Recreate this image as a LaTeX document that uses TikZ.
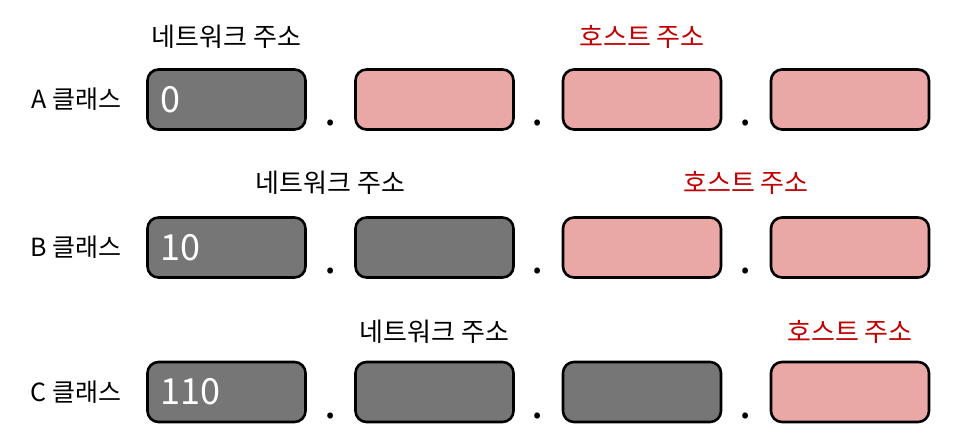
\documentclass[tikz,border=0pt]{standalone}
\usepackage{fontspec}
\setmainfont{Noto Sans CJK KR}
\definecolor{netgray}{RGB}{118,118,118}
\definecolor{hostpink}{RGB}{233,168,166}
\definecolor{hostred}{RGB}{192,0,0}
\tikzset{
  addrbox/.style={draw=black, line width=2.6pt, rounded corners=11pt,
    minimum height=60pt, text width=132pt, inner xsep=13pt, align=left,
    text=white, font=\fontsize{36}{40}\selectfont},
  netbox/.style={addrbox, fill=netgray},
  hostbox/.style={addrbox, fill=hostpink},
  classlabel/.style={anchor=east, font=\fontsize{25}{28}\selectfont},
  netlabel/.style={font=\fontsize{26}{30}\selectfont},
  hostlabel/.style={netlabel, text=hostred},
  dotmark/.style={anchor=base, inner sep=0pt, font=\fontsize{44}{46}\selectfont}
}
\begin{document}
\begin{tikzpicture}[x=1pt, y=-1pt]
  \useasboundingbox (0,0) rectangle (960,446);
  \begin{scope}[yshift=-99.5pt]
    \node[classlabel] (aname) at (125,0) {A 클래스};
    \node[netbox] (a1) at (226.5,0) {0};
    \node[hostbox] (a2) at (434.5,0) {};
    \node[hostbox] (a3) at (642,0) {};
    \node[hostbox] (a4) at (850,0) {};
    \node[dotmark] (adot1) at (330.5,26) {.};
    \node[dotmark] (adot2) at (538,26) {.};
    \node[dotmark] (adot3) at (746,26) {.};
    \node[netlabel] (anet) at (226.5,-62.5) {네트워크 주소};
    \node[hostlabel] (ahost) at (642,-62.5) {호스트 주소};
  \end{scope}
  \begin{scope}[yshift=-247.5pt]
    \node[classlabel] (bname) at (125,0) {B 클래스};
    \node[netbox] (b1) at (226.5,0) {10};
    \node[netbox] (b2) at (434.5,0) {};
    \node[hostbox] (b3) at (642,0) {};
    \node[hostbox] (b4) at (850,0) {};
    \node[dotmark] (bdot1) at (330.5,26) {.};
    \node[dotmark] (bdot2) at (538,26) {.};
    \node[dotmark] (bdot3) at (746,26) {.};
    \node[netlabel] (bnet) at (330.5,-64.5) {네트워크 주소};
    \node[hostlabel] (bhost) at (746,-64.5) {호스트 주소};
  \end{scope}
  \begin{scope}[yshift=-392pt]
    \node[classlabel] (cname) at (125,0) {C 클래스};
    \node[netbox] (c1) at (226.5,0) {110};
    \node[netbox] (c2) at (434.5,0) {};
    \node[netbox] (c3) at (642,0) {};
    \node[hostbox] (c4) at (850,0) {};
    \node[dotmark] (cdot1) at (330.5,26) {.};
    \node[dotmark] (cdot2) at (538,26) {.};
    \node[dotmark] (cdot3) at (746,26) {.};
    \node[netlabel] (cnet) at (434.5,-60) {네트워크 주소};
    \node[hostlabel] (chost) at (850,-60) {호스트 주소};
  \end{scope}
\end{tikzpicture}
\end{document}
